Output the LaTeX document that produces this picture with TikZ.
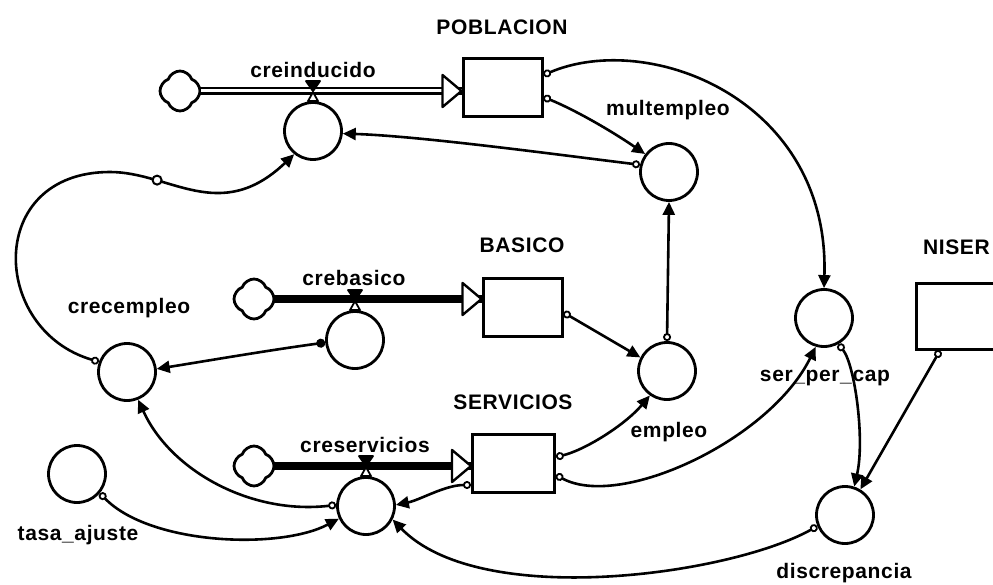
\documentclass[tikz,border=0pt]{standalone}
\usepackage{fontspec}
\newfontfamily\lblfont{Liberation Sans}[LetterSpace=3]
\usetikzlibrary{arrows.meta,shapes.symbols,calc}
\begin{document}
\begin{tikzpicture}[x=1pt,y=-1pt,
  conv/.style={circle,draw,line width=2.8pt,minimum size=57pt,inner sep=0pt},
  stock/.style={rectangle,draw,line width=3pt,inner sep=0pt,minimum width=79pt,minimum height=58pt},
  src/.style={cloud,cloud puffs=4,cloud puff arc=140,aspect=1,shape border rotate=45,draw,line width=2.8pt,minimum width=40pt,minimum height=40pt,inner sep=0pt},
  lbl/.style={font=\lblfont\bfseries\fontsize{21}{24}\selectfont,inner sep=0pt},
  conn/.style={line width=2.6pt,{Circle[open,length=8pt,width=8pt,line width=1.8pt]}-{Triangle[length=13pt,width=12pt]}},
  conndot/.style={line width=2.6pt,{Circle[length=9pt,width=9pt]}-{Triangle[length=13pt,width=12pt]}},
  pipeA/.style={draw,line width=2.2pt,double distance=3pt},
  pipeB/.style={line width=8pt},
  inflow/.style={draw,fill=white,line width=2.4pt,line join=round},
  valvetop/.style={draw,fill=black,line width=1.8pt,line join=round},
  valvelow/.style={draw,fill=white,line width=1.8pt,line join=round},
  handle/.style={circle,draw,fill=white,line width=2pt,minimum size=9pt,inner sep=0pt}
]
\useasboundingbox (0,0) rectangle (993,585);
\clip (0,0) rectangle (993,585);

% stocks
\node[stock] (pob) at (502.5,88) {};
\node[stock] (bas) at (522.5,307.5) {};
\node[stock,minimum width=82pt] (ser) at (513.5,463) {};
\node[stock,minimum width=110pt,minimum height=65pt] (nis) at (971,316.5) {};

% converters
\node[conv] (ci) at (313,131) {};
\node[conv] (cm) at (669,172) {};
\node[conv] (cb) at (355,340) {};
\node[conv] (cc) at (127,372) {};
\node[conv] (ce) at (667,371) {};
\node[conv] (cs) at (366,506) {};
\node[conv] (ct) at (77,474) {};
\node[conv] (cp) at (824,318) {};
\node[conv] (cd) at (845,515) {};

% clouds
\node[src] (k1) at (180,91) {};
\node[src] (k2) at (254,299) {};
\node[src] (k3) at (254,466) {};

% pipes
\draw[pipeA] (k1.east) -- (k1.east -| pob.west);
\draw[pipeB] (k2.east) -- (k2.east -| bas.west);
\draw[pipeB] (k3.east) -- (k3.east -| ser.west);
\draw[inflow] (k1.east -| pob.west) -- ++(-19,-16) -- ++(0,32) -- cycle;
\draw[inflow] (k2.east -| bas.west) -- ++(-19,-16) -- ++(0,32) -- cycle;
\draw[inflow] (k3.east -| ser.west) -- ++(-19,-16) -- ++(0,32) -- cycle;

% valves
\foreach \v in {ci,cb,cs}{
  \draw[valvetop] (\v.north) ++(-7,-20) -- ++(14,0) -- ++(-7,10) -- cycle;
  \draw[valvelow] (\v.north) ++(0,-9) -- ++(-5,9) -- ++(10,0) -- cycle;
}

% connectors
\draw[conn] (cm.166) .. controls (560,155) and (420,136) .. (ci.355);
\draw[conn] ([yshift=-9pt]pob.east) .. controls (575,110) and (610,130) .. (cm.143);
\draw[conn] ([yshift=13pt]pob.east) .. controls (650,30) and (830,100) .. (cp.north);
\draw[conn] (cc.160) .. controls (-10,330) and (-15,172) .. (110,172)
   .. controls (170,172) and (220,225) .. node[handle,pos=0.27] (h1) {} (ci.231);
\draw[conndot] (cb.185) .. controls (270,350) and (200,362) .. (cc.6);
\draw[conn] ([yshift=-5pt]bas.east) -- (ce.153);
\draw[conn] (ce.north) -- (cm.south);
\draw[conn] ([yshift=6pt]ser.east) .. controls (585,450) and (625,425) .. (ce.235);
\draw[conn] ([yshift=-12pt]ser.east) .. controls (620,510) and (770,440) .. (cp.254);
\draw[conn] (cp.299) .. controls (855,365) and (865,440) .. (cd.72);
\draw[conn] ([xshift=-31pt]nis.south) -- (cd.59);
\draw[conn] (cd.202) .. controls (730,575) and (480,610) .. (cs.333);
\draw[conn] ([yshift=-22pt]ser.west) .. controls (445,485) and (420,500) .. (cs.2);
\draw[conn] (cs.178) .. controls (250,515) and (170,470) .. (cc.292);
\draw[conn] (ct.320) .. controls (150,545) and (280,550) .. (cs.205);

% labels
\node[lbl] (tpob) at (502,27) {POBLACION};
\node[lbl] (tci) at (313,70) {creinducido};
\node[lbl] (tcm) at (668,110) {multempleo};
\node[lbl] (tbas) at (522,245) {BASICO};
\node[lbl] (tcb) at (354,278) {crebasico};
\node[lbl] (tcc) at (129,308) {crecempleo};
\node[lbl,anchor=east] (tnis) at (990,247) {NISER};
\node[lbl] (tcp) at (825,378) {ser\_per\_cap};
\node[lbl] (tser) at (513,402) {SERVICIOS};
\node[lbl] (tce) at (669,432) {empleo};
\node[lbl] (tcs) at (365,445) {creservicios};
\node[lbl] (tct) at (78,535) {tasa\_ajuste};
\node[lbl] (tcd) at (844,573) {discrepancia};
\end{tikzpicture}
\end{document}
